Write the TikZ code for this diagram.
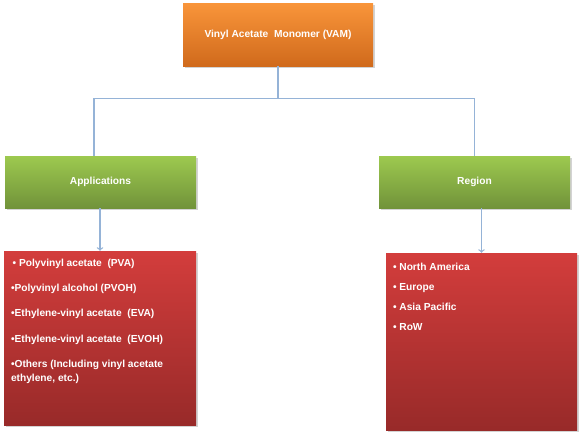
\documentclass[tikz,border=0pt]{standalone}
\usepackage{fontspec}
\setmainfont{Liberation Sans}
\usepackage{tikz}
\usepackage{xcolor}
\usetikzlibrary{shadows}

\definecolor{orangetop}{HTML}{F9953A}
\definecolor{orangebot}{HTML}{D06A1C}
\definecolor{greentop}{HTML}{9DC94F}
\definecolor{greenbot}{HTML}{71933A}
\definecolor{redtop}{HTML}{D33D3C}
\definecolor{redbot}{HTML}{982A29}
\definecolor{linkblue}{HTML}{95B3D7}

\begin{document}
\begin{tikzpicture}[x=1pt, y=-1pt,
  box/.style={rectangle, draw=none, text=white,
    font=\fontsize{10.2}{12}\selectfont\bfseries,
    drop shadow={shadow xshift=1.5pt, shadow yshift=-1.5pt, opacity=.35}},
  link/.style={draw=linkblue, line width=1.3pt},
  listtext/.style={anchor=north west, inner sep=0pt, align=left, text=white}]
\useasboundingbox (0,0) rectangle (579,432);

\node[box, top color=orangetop, bottom color=orangebot, minimum width=190pt, minimum height=63pt] (vam) at (278,34.5) {Vinyl Acetate\ \ Monomer (VAM)};

\node[box, top color=greentop, bottom color=greenbot, minimum width=191pt, minimum height=52pt] (apps) at (100.5,182) {Applications};
\node[box, top color=greentop, bottom color=greenbot, minimum width=191pt, minimum height=52pt] (region) at (474.5,182) {Region};

\node[box, top color=redtop, bottom color=redbot, minimum width=192pt, minimum height=174pt] (appslist) at (100,338) {};
\node[box, top color=redtop, bottom color=redbot, minimum width=191pt, minimum height=177pt] (regionlist) at (481.5,341.5) {};

% list texts
\node[listtext, font=\fontsize{10.2}{14}\selectfont\bfseries] (appsitems) at ([xshift=7pt, yshift=-8pt]appslist.north west)
  {\,•\ Polyvinyl acetate\ \ (PVA)\\[11.3pt]
   •Polyvinyl alcohol (PVOH)\\[11.3pt]
   •Ethylene-vinyl acetate\ \ (EVA)\\[11.3pt]
   •Ethylene-vinyl acetate\ \ (EVOH)\\[11.3pt]
   •Others (Including vinyl acetate\\
   ethylene, etc.)};
\node[listtext, font=\fontsize{10.2}{14}\selectfont\bfseries] (regionitems) at ([xshift=7pt, yshift=-10.5pt]regionlist.north west)
  {•\ North America\\[6pt]
   •\ Europe\\[6pt]
   •\ Asia Pacific\\[6pt]
   •\ RoW};

% connectors
\draw[link] (vam.south) -- ++(0,32) coordinate (fork);
\draw[link] ([xshift=-6.5pt]apps.north) |- (fork) -| (region.north);
\draw[link, ->] (appslist.north |- apps.south) -- (appslist.north);
\draw[link, ->] (regionlist.north |- region.south) -- (regionlist.north);
\end{tikzpicture}
\end{document}
